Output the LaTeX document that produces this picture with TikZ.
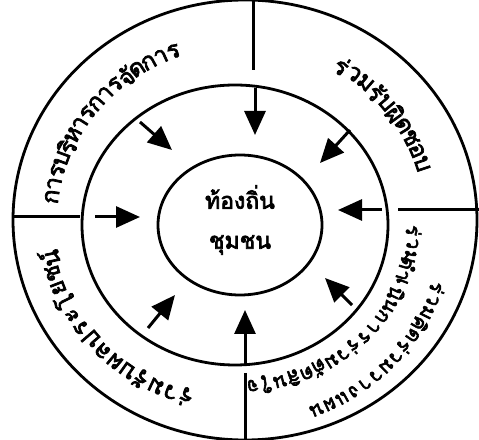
\documentclass[tikz,border=0pt]{standalone}
\usepackage{fontspec}
\newfontfamily\thaifont[Script=Thai, AutoFakeBold=3]{Loma}
\usetikzlibrary{arrows.meta}

\begin{document}
\begin{tikzpicture}[x=1pt, y=1pt,
    ring/.style={line width=2.8pt},
    divider/.style={line width=3pt},
    inarrow/.style={line width=3pt, -{Triangle[length=24pt, width=21pt]}},
    thai/.style={font=\thaifont\bfseries\fontsize{24}{24}\selectfont, inner sep=0pt},
    thaismall/.style={font=\thaifont\bfseries\fontsize{20}{20}\selectfont, inner sep=0pt},
    centretext/.style={font=\thaifont\bfseries\fontsize{23}{23}\selectfont, inner sep=0pt}]
\useasboundingbox (0,0) rectangle (479,439);

% three rings
\draw[ring] (245,219) ellipse [x radius=232, y radius=220];
\draw[ring] (235,214) ellipse [x radius=153, y radius=140];
\draw[ring] (240,214) ellipse [x radius=82, y radius=70];

% dividers of the outer ring
\coordinate (top-a) at (253,439);    \coordinate (top-b) at (253,369);
\coordinate (left-a) at (14,222);    \coordinate (left-b) at (80,222);
\coordinate (right-a) at (398,229);  \coordinate (right-b) at (479,229);
\coordinate (bot-a) at (245,66);     \coordinate (bot-b) at (245,0);
\draw[divider] (top-a) -- (top-b);
\draw[divider] (left-a) -- (left-b);
\draw[divider] (right-a) -- (right-b);
\draw[divider] (bot-a) -- (bot-b);

% arrows towards the centre
\foreach \name/\sx/\sy/\ex/\ey in {n/255/351/255/304, nw/140/317/172/289,
    ne/350/309/320/276, w/95/222/140/222, e/382/229/338/229,
    sw/148/111/175/144, s/245/74/245/129, se/352/134/325/161} {
  \coordinate (\name-s) at (\sx,\sy);
  \coordinate (\name-e) at (\ex,\ey);
  \draw[inarrow] (\name-s) -- (\name-e);
}

% centre
\node[centretext] (local) at (240,242) {ท้องถิ่น};
\node[centretext] (community) at (240,194) {ชุมชน};

% texts of the outer ring
\foreach \ch [count=\i] in {ก,า,ร,บ,ริ,ห,า,ร,ก,า,ร,จั,ด,ก,า,ร} {
  \pgfmathsetmacro\ang{172-(\i-1)*4.1}
  \node[thai, rotate=\ang-90] (admin-\i) at ({240+190*cos(\ang)},{217+182*sin(\ang)}) {\ch};
}
\foreach \ch [count=\i] in {ร่,ว,ม,รั,บ,ผิ,ด,ช,อ,บ} {
  \pgfmathsetmacro\ang{58-(\i-1)*4.4}
  \node[thai, rotate=\ang-90] (resp-\i) at ({240+192*cos(\ang)},{217+184*sin(\ang)}) {\ch};
}
\foreach \ch [count=\i] in {ร่,ว,ม,คิ,ด,ร่,ว,ม,ว,า,ง,แ,ผ,น} {
  \pgfmathsetmacro\ang{341-(\i-1)*3.8}
  \node[thaismall, rotate=\ang-90] (plan-\i) at ({240+209*cos(\ang)},{217+202*sin(\ang)}) {\ch};
}
\foreach \ch [count=\i] in {ร่,ว,ม,ดำ,เ,นิ,น,ก,า,ร,ร่,ว,ม,ตั,ด,สิ,น,ใ,จ} {
  \pgfmathsetmacro\ang{357-(\i-1)*4.6}
  \node[thaismall, rotate=\ang-90] (act-\i) at ({240+174*cos(\ang)},{217+164*sin(\ang)}) {\ch};
}
\foreach \ch [count=\i] in {ร่,ว,ม,รั,บ,ผ,ล,ป,ร,ะ,โ,ย,ช,น์} {
  \pgfmathsetmacro\ang{254-(\i-1)*4.8}
  \node[thai, rotate=\ang-90] (gain-\i) at ({240+195*cos(\ang)},{217+182*sin(\ang)}) {\ch};
}
\end{tikzpicture}
\end{document}
